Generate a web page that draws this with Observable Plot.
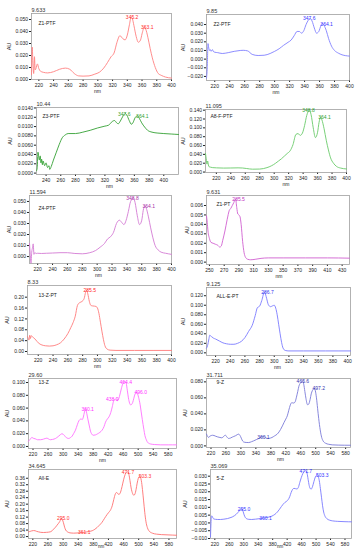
<!DOCTYPE html>
<html><head><meta charset="utf-8">
<script src="https://cdn.jsdelivr.net/npm/d3@7"></script>
<script src="https://cdn.jsdelivr.net/npm/@observablehq/plot@0.6"></script>
<style>
body{margin:0;background:#fff;}
#root{position:relative;width:357px;height:550px;overflow:hidden;}
.panel{position:absolute;}
.panel svg{overflow:visible;background:transparent;}
</style></head><body><div id="root"></div>
<script>
// ---------- DATA ----------
const names = ["Z1-PTF","Z2-PTF","Z3-PTF","A8-F-PTF","Z4-PTF","Z1-PT","13-Z-PT","ALL-E-PT","13-Z","9-Z","All-E","5-Z"];
const rtimes = ["9.633","9.85","10.44","11.095","11.594","9.631","8.33","9.125","29.60","31.711","34.645","35.069"];

const p1_spectrum = [[210,0.004],[211,0.027],[212,0.012],[213,0.005],[214,0.019],[215,0.008],[216,0.009],[218,0.013],[220,0.009],[222,0.007],[226,0.006],[232,0.0055],[240,0.0065],[248,0.0085],[256,0.0095],[262,0.0085],[268,0.005],[274,0.003],[280,0.0028],[288,0.003],[296,0.0045],[302,0.006],[308,0.0095],[313,0.014],[318,0.019],[322,0.022],[326,0.031],[330,0.0365],[334,0.034],[337,0.033],[340,0.037],[343,0.046],[345.2,0.052],[347,0.0505],[349,0.045],[352,0.036],[355,0.031],[358,0.033],[360,0.038],[363.1,0.0435],[365,0.042],[368,0.035],[371,0.026],[374,0.018],[378,0.010],[382,0.005],[386,0.0035],[392,0.002],[400,0.0012]];
const p2_spectrum = [[209,-0.022],[210,-0.010],[211,0.018],[212,0.013],[213,0.010],[214,0.011],[215,0.009],[216,0.010],[217,0.011],[218,0.009],[220,0.008],[224,0.0075],[230,0.0065],[238,0.0075],[246,0.009],[254,0.010],[258,0.0102],[264,0.0095],[270,0.0055],[278,0.0042],[286,0.0045],[294,0.0065],[300,0.009],[306,0.012],[312,0.016],[318,0.0195],[322,0.022],[326,0.027],[330,0.032],[333,0.032],[336,0.030],[339,0.033],[342,0.040],[345,0.045],[347.6,0.047],[350,0.044],[353,0.036],[356,0.030],[359,0.032],[362,0.039],[364.1,0.041],[366,0.039],[369,0.033],[372,0.024],[376,0.015],[380,0.010],[385,0.007],[390,0.005],[395,0.004],[400,0.0035]];
const p3_spectrum = [[227,0.0005],[228,0.0012],[229,0.0045],[230,0.0035],[231,0.0028],[232,0.0037],[233,0.0022],[234,0.003],[235,0.0018],[236,0.0026],[238,0.0016],[240,0.0022],[242,0.0012],[244,0.0016],[245,0.0008],[247,0.0014],[250,0.0028],[254,0.0045],[258,0.0062],[262,0.0076],[266,0.0082],[270,0.0085],[280,0.0085],[290,0.0088],[300,0.0092],[310,0.0097],[320,0.0101],[325,0.0103],[330,0.0111],[333,0.0113],[336,0.0108],[338,0.0106],[341,0.0112],[344,0.0121],[347.6,0.0128],[350,0.0124],[353,0.0113],[356,0.0105],[358,0.0108],[361,0.0119],[364.1,0.0123],[367,0.0117],[370,0.0108],[374,0.0099],[378,0.0092],[384,0.0088],[392,0.0086],[400,0.0085],[410,0.0084],[420,0.0083]];
const p4_spectrum = [[205,0.042],[206,0.030],[207,0.018],[208,0.025],[209,0.016],[210,0.012],[212,0.011],[215,0.010],[220,0.0095],[230,0.009],[240,0.0092],[250,0.0095],[256,0.0092],[262,0.008],[270,0.0065],[280,0.0068],[290,0.010],[296,0.014],[302,0.020],[306,0.025],[310,0.030],[314,0.036],[318,0.042],[322,0.048],[326,0.062],[330,0.085],[333,0.087],[336,0.083],[339,0.088],[342,0.105],[345,0.128],[348.8,0.140],[351,0.130],[354,0.100],[357,0.078],[360,0.090],[362,0.112],[364.1,0.124],[366,0.118],[369,0.098],[372,0.072],[375,0.050],[378,0.032],[382,0.020],[386,0.013],[392,0.009],[400,0.007]];
const p5_spectrum = [[209,0.012],[210,0.002],[211,-0.006],[212,0.004],[213,0.008],[214,0.0115],[215,0.002],[216,0.0035],[218,0.0028],[220,0.003],[225,0.0028],[232,0.003],[240,0.0032],[250,0.0035],[260,0.0035],[270,0.0028],[280,0.0025],[290,0.0035],[298,0.0055],[304,0.0085],[310,0.012],[314,0.016],[318,0.018],[322,0.022],[326,0.030],[330,0.033],[333,0.031],[336,0.029],[339,0.033],[342,0.041],[345,0.050],[348.8,0.053],[351,0.049],[354,0.037],[357,0.029],[360,0.033],[362,0.042],[364.1,0.046],[366,0.044],[369,0.036],[372,0.026],[375,0.017],[378,0.010],[382,0.006],[386,0.004],[392,0.003],[400,0.002]];
const p6_spectrum = [[246,0.0049],[247,0.0042],[248,0.0033],[250,0.0025],[252,0.0021],[255,0.002],[258,0.0019],[261,0.0018],[264,0.0016],[266,0.0017],[268,0.0023],[271,0.0033],[274,0.0045],[277,0.0055],[279,0.0057],[281,0.006],[283,0.0063],[285.5,0.0067],[287,0.0058],[288.5,0.0051],[290,0.005],[291.5,0.0048],[293,0.004],[295,0.0022],[297,0.001],[299,0.0005],[302,0.0003],[306,0.00025],[312,0.0003],[320,0.0004],[330,0.00045],[350,0.00045],[380,0.00045],[410,0.00045],[440,0.00042]];
const p7_spectrum = [[205.5,0.055],[206.5,0.048],[207.5,0.042],[208.5,0.060],[209.5,0.048],[210.5,0.058],[212,0.055],[214,0.050],[217,0.042],[220,0.032],[225,0.024],[230,0.021],[235,0.020],[240,0.021],[245,0.025],[250,0.032],[255,0.046],[260,0.066],[264,0.088],[267,0.106],[270,0.130],[273,0.170],[276,0.180],[279,0.184],[282,0.195],[284,0.218],[285.5,0.226],[287,0.212],[289,0.185],[291,0.170],[293,0.168],[296,0.167],[298,0.166],[300,0.160],[302,0.140],[304,0.108],[306,0.075],[308,0.045],[310,0.022],[313,0.009],[317,0.005],[325,0.004],[350,0.004],[400,0.004]];
const p8_spectrum = [[207.6,0.010],[209,0.015],[210,0.022],[211,0.030],[212,0.037],[213,0.036],[214.5,0.034],[217,0.031],[220,0.029],[225,0.025],[230,0.021],[235,0.019],[240,0.018],[245,0.018],[250,0.020],[255,0.024],[260,0.032],[265,0.045],[270,0.058],[274,0.078],[277,0.095],[280,0.098],[283,0.110],[286.7,0.128],[289,0.118],[292,0.101],[295,0.097],[298,0.099],[300,0.100],[302,0.094],[304,0.080],[306,0.060],[308,0.040],[310,0.022],[312,0.010],[315,0.005],[320,0.004],[340,0.004],[370,0.004],[404,0.004]];
const p9_spectrum = [[208,0.008],[212,0.011],[217,0.014],[222,0.0125],[226,0.012],[232,0.0105],[240,0.0105],[248,0.0115],[257,0.013],[262,0.0115],[266,0.0105],[272,0.011],[280,0.0125],[287,0.0155],[293,0.0185],[297.5,0.020],[302,0.0178],[306,0.0155],[311,0.013],[315,0.0125],[320,0.014],[324,0.016],[328,0.020],[333,0.0255],[338,0.034],[342,0.040],[348,0.043],[351,0.042],[354,0.046],[357,0.054],[360.1,0.059],[363,0.052],[366,0.043],[370,0.032],[373,0.024],[377,0.019],[380,0.0175],[386,0.018],[391,0.0195],[398,0.022],[404,0.0255],[409,0.031],[413,0.038],[418,0.043],[422,0.046],[427,0.053],[431,0.062],[434,0.070],[438.9,0.0745],[441,0.073],[444,0.0715],[447,0.073],[450,0.078],[455,0.090],[459,0.098],[464.4,0.1015],[468,0.099],[471,0.088],[474,0.076],[477,0.068],[480,0.065],[484,0.067],[487,0.072],[490,0.079],[493.5,0.084],[496,0.085],[498,0.083],[501,0.077],[505,0.066],[508,0.054],[511,0.042],[515,0.027],[518,0.017],[522,0.010],[525,0.0065],[532,0.004],[543,0.003],[560,0.0025],[580,0.0025],[602,0.0025]];
const p10_spectrum = [[208,0.0147],[211,0.0118],[214,0.0105],[217,0.0122],[220,0.0128],[224,0.0133],[228,0.013],[233,0.012],[238,0.0112],[244,0.0105],[249,0.0101],[254,0.0118],[258,0.0135],[262,0.0115],[267,0.0093],[272,0.0098],[277,0.011],[281,0.0118],[286,0.0128],[290,0.014],[294,0.0147],[299,0.0118],[303,0.0075],[307,0.005],[314,0.0043],[321,0.0042],[328,0.0052],[334,0.0063],[341,0.0078],[348,0.0093],[354,0.011],[361,0.0118],[366,0.0105],[370,0.0093],[376,0.0095],[383,0.0105],[390,0.0125],[397,0.0147],[402,0.0175],[406,0.0205],[411,0.025],[415,0.029],[420,0.0335],[424,0.0375],[428,0.0445],[432,0.051],[436,0.054],[441,0.0535],[445,0.055],[448,0.060],[452,0.068],[455,0.0745],[459,0.0785],[462,0.080],[465.6,0.081],[468,0.077],[471,0.068],[474,0.059],[478,0.0515],[481,0.052],[485,0.058],[488,0.065],[491,0.069],[494,0.071],[497.2,0.0718],[499,0.069],[502,0.060],[505,0.047],[508,0.034],[512,0.020],[516,0.0105],[520,0.006],[526,0.0034],[535,0.002],[544,0.0013],[560,0.001],[593,0.0008]];
const p11_spectrum = [[208.5,0.029],[213,0.032],[217,0.035],[222,0.037],[226,0.036],[230,0.032],[235,0.029],[241,0.026],[248,0.025],[256,0.026],[266,0.029],[271,0.036],[275,0.046],[280,0.058],[284,0.070],[288,0.082],[291,0.092],[295,0.112],[298,0.105],[301,0.085],[304,0.058],[307,0.040],[311,0.030],[315,0.025],[321,0.022],[328,0.021],[337,0.022],[346,0.024],[355,0.026],[363,0.029],[370,0.032],[377,0.036],[384,0.045],[390,0.056],[396,0.070],[403,0.088],[409,0.110],[416,0.135],[421,0.150],[425,0.162],[430,0.190],[434,0.228],[438,0.262],[441,0.272],[444,0.268],[447,0.260],[450,0.264],[454,0.290],[458,0.330],[462,0.368],[466,0.392],[469,0.398],[471.7,0.400],[474,0.385],[477,0.345],[480,0.300],[484,0.265],[487,0.255],[490,0.262],[493,0.290],[496,0.330],[499,0.360],[501,0.370],[503.3,0.372],[505,0.365],[507,0.345],[510,0.290],[513,0.220],[516,0.150],[519,0.095],[523,0.055],[528,0.033],[536,0.021],[547,0.015],[560,0.012],[580,0.010],[600,0.008]];
const p12_spectrum = [[208,-0.009],[209,-0.002],[210,0.003],[211,0.0045],[213,0.0042],[215,0.003],[218,0.0025],[222,0.0023],[228,0.0022],[236,0.0022],[245,0.0024],[255,0.0028],[262,0.0033],[268,0.0038],[274,0.0046],[279,0.0055],[283,0.0065],[287,0.0075],[290,0.0082],[292,0.0088],[295,0.0091],[298,0.0075],[301,0.0052],[304,0.0036],[308,0.0027],[314,0.0023],[322,0.0022],[332,0.0024],[342,0.0027],[352,0.003],[361,0.0034],[370,0.0038],[378,0.0044],[386,0.0055],[393,0.007],[399,0.0088],[404,0.0105],[409,0.012],[414,0.0132],[419,0.014],[423,0.015],[427,0.0168],[431,0.0195],[435,0.0215],[439,0.0222],[443,0.022],[447,0.0218],[451,0.0228],[455,0.026],[459,0.029],[463,0.0315],[467,0.033],[471.7,0.0335],[475,0.032],[478,0.028],[481,0.024],[484,0.022],[487,0.0218],[490,0.0232],[494,0.0265],[498,0.0295],[501,0.0305],[503.3,0.0308],[506,0.0298],[509,0.027],[512,0.022],[515,0.0165],[518,0.011],[521,0.007],[525,0.0042],[530,0.0027],[537,0.0018],[546,0.0013],[560,0.001],[580,0.0008],[598,0.0007]];

const p1_peaks = [345.2, 363.1];
const p2_peaks = [347.6, 364.1];
const p3_peaks = [347.6, 364.1];
const p4_peaks = [348.8, 364.1];
const p5_peaks = [348.8, 364.1];
const p6_peaks = [285.5];
const p7_peaks = [285.5];
const p8_peaks = [286.7];
const p9_peaks = [360.1, 438.9, 464.4, 496.0];
const p10_peaks = [360.1, 465.6, 497.2];
const p11_peaks = [295.0, 361.1, 471.7, 503.3];
const p12_peaks = [295.0, 360.1, 471.7, 503.3];

const xt_a = [220,240,260,280,300,320,340,360,380,400];
const xt_b = [240,260,280,300,320,340,360,380,400];
const xt_c = [250,270,290,310,330,350,370,390,410,430];
const xt_d = [220,260,300,340,380,420,460,500,540,580];
const yt_1 = [0,0.01,0.02,0.03,0.04,0.05];
const yt_2 = [-0.02,-0.01,0,0.01,0.02,0.03,0.04];
const yt_3 = [0,0.002,0.004,0.006,0.008,0.010,0.012,0.014];
const yt_4 = [0,0.02,0.04,0.06,0.08,0.10,0.12,0.14];
const yt_6 = [0,0.001,0.002,0.003,0.004,0.005,0.006];
const yt_7 = [0,0.04,0.08,0.12,0.16,0.20];
const yt_8 = [0,0.02,0.04,0.06,0.08,0.10,0.12];
const yt_9 = [0,0.02,0.04,0.06,0.08,0.10];
const yt_10 = [0,0.02,0.04,0.06,0.08];
const yt_11 = [0,0.04,0.08,0.12,0.16,0.20,0.24,0.28,0.32,0.36];
const yt_12 = [-0.010,-0.005,0,0.005,0.010,0.015,0.020,0.025,0.030];

// ---------- LAYOUT / STYLE ----------
const panels = [
 {data:p1_spectrum, peaks:p1_peaks, xd:[210,400], yd:[0,0.055], xt:xt_a, yt:yt_1, yf:".3f", frame:[31,13,171,79], line:"#ff8080", lab:"#ff2a2a", nameOff:[7,10], auDx:-22, nm:[-4,12,5], pdx:[1,3]},
 {data:p2_spectrum, peaks:p2_peaks, xd:[209,400], yd:[-0.0247,0.0516], xt:xt_a, yt:yt_2, yf:".3f", frame:[206,14,349,80], line:"#8080ff", lab:"#3333ff", nameOff:[7,10], auDx:-23, nm:[-2,12,5], pdx:[-1,4]},
 {data:p3_spectrum, peaks:p3_peaks, xd:[227,420], yd:[-0.0003,0.0141], xt:xt_b, yt:yt_3, yf:".4f", frame:[36,107,178,174], line:"#33a033", lab:"#2f9f2f", nameOff:[6,9], auDx:-26, nm:[2,12,5], pdx:[-1,5]},
 {data:p4_spectrum, peaks:p4_peaks, xd:[205,400], yd:[-0.001,0.1415], xt:xt_a, yt:yt_4, yf:".3f", frame:[205,109,346,172], line:"#6acb6a", lab:"#2f9f2f", nameOff:[5,7], auDx:-22, nm:[10,12,5], pdx:[-1,4]},
 {data:p5_spectrum, peaks:p5_peaks, xd:[209,400], yd:[-0.0063,0.0554], xt:xt_a, yt:yt_1, yf:".3f", frame:[29,195,171,263], line:"#d47ad4", lab:"#a830a8", nameOff:[9,13], auDx:-20, nm:[-2,12,5], pdx:[-1,4]},
 {data:p6_spectrum, peaks:p6_peaks, xd:[246,440], yd:[-0.00025,0.00706], xt:xt_c, yt:yt_6, yf:".3f", frame:[206,195,349,264], line:"#d060d0", lab:"#c030c0", nameOff:[10,9], auDx:-19, nm:[1,12,5], pdx:[3]},
 {data:p7_spectrum, peaks:p7_peaks, xd:[205.5,400], yd:[-0.011,0.243], xt:xt_a, yt:yt_7, yf:".2f", frame:[27,285,171,354], line:"#ff7a7a", lab:"#ff2020", nameOff:[11,10], auDx:-20, nm:[-2,12,5], pdx:[3]},
 {data:p8_spectrum, peaks:p8_peaks, xd:[207.6,404], yd:[-0.0056,0.1373], xt:xt_a, yt:yt_8, yf:".3f", frame:[206,287,350,355], line:"#7a7aff", lab:"#3333ee", nameOff:[10,9], auDx:-23, nm:[-1,12,5], pdx:[3]},
 {data:p9_spectrum, peaks:p9_peaks, xd:[208,602], yd:[-0.0032,0.1063], xt:xt_d, yt:yt_9, yf:".3f", frame:[28,378,176,448], line:"#ff70ff", lab:"#ff30ff", nameOff:[10,4], auDx:-21, nm:[0,12,5], pdx:[2,-3,1,4]},
 {data:p10_spectrum, peaks:p10_peaks, xd:[208,593], yd:[-0.002,0.0842], xt:xt_d, yt:yt_10, yf:".3f", frame:[206,378,350,447], line:"#7a7ad8", lab:"#3535b0", nameOff:[10,4], auDx:-21, nm:[2,12,5], pdx:[0,0,4]},
 {data:p11_spectrum, peaks:p11_peaks, xd:[208.5,600], yd:[-0.012,0.414], xt:xt_d, yt:yt_11, yf:".2f", frame:[28,469,176,538], line:"#ff7070", lab:"#ff3030", nameOff:[10,9], auDx:-21, nm:[-1.5,8,4.5], pdx:[2,-2,0,5]},
 {data:p12_spectrum, peaks:p12_peaks, xd:[208,598], yd:[-0.010,0.0343], xt:xt_d, yt:yt_12, yf:".3f", frame:[210,469,351,538], line:"#7a7aff", lab:"#3333ff", nameOff:[6,9], auDx:-25, nm:[-1,8,4.5], pdx:[2,0,0,5]}
];

const FONT = "'Liberation Sans', Arial, sans-serif";
const root = document.getElementById("root");
const ml = 34, mt = 14, mr = 6, mb = 20;

panels.forEach((p, i) => {
  const [l, t, r, b] = p.frame;
  const xs = p.data.map(d => d[0]);
  const interp = x => {
    const j = d3.bisectLeft(xs, x);
    if (j <= 0) return p.data[0][1];
    if (j >= xs.length) return p.data[xs.length - 1][1];
    const [x0, y0] = p.data[j - 1], [x1, y1] = p.data[j];
    return y0 + (y1 - y0) * (x - x0) / (x1 - x0);
  };
  const peakRows = p.peaks.map((x, k) => ({x, y: interp(x), t: x.toFixed(1), dx: p.pdx[k] || 0}));
  const svg = Plot.plot({
    width: r - l + ml + mr, height: b - t + mt + mb,
    marginLeft: ml, marginTop: mt, marginRight: mr, marginBottom: mb,
    style: {fontFamily: FONT, fontSize: "5px", background: "transparent", color: "#222", overflow: "visible"},
    x: {domain: p.xd, ticks: p.xt, tickSize: 2, tickPadding: 1.5, label: null, tickFormat: d3.format("d")},
    y: {domain: p.yd, ticks: p.yt, tickFormat: p.yf, tickSize: 2, tickPadding: 1.5, label: null},
    marks: [
      Plot.frame({stroke: "#a0a0a0", strokeWidth: 0.8}),
      Plot.line(p.data, {x: d => d[0], y: d => d[1], stroke: p.line, strokeWidth: 0.9, curve: "monotone-x"}),
      Plot.text([names[i]], {frameAnchor: "top-left", lineAnchor: "middle", dx: p.nameOff[0], dy: p.nameOff[1], fontSize: 5, fill: "#222"}),
      Plot.text([rtimes[i]], {frameAnchor: "top-left", lineAnchor: "bottom", dx: 0, dy: -2, fontSize: 5.5, fill: "#333"}),
      Plot.text(["AU"], {frameAnchor: "left", textAnchor: "middle", lineAnchor: "middle", rotate: -90, dx: p.auDx, fontSize: 5.5, fill: "#222"}),
      Plot.text(["nm"], {frameAnchor: "bottom", textAnchor: "middle", lineAnchor: "middle", dx: p.nm[0], dy: p.nm[1], fontSize: p.nm[2], fill: "#222"}),
      ...peakRows.map(row => Plot.text([row], {x: "x", y: "y", text: "t", fill: p.lab, lineAnchor: "bottom", dx: row.dx, dy: 2, fontSize: 5}))
    ]
  });
  const div = document.createElement("div");
  div.className = "panel";
  div.style.left = (l - ml) + "px";
  div.style.top = (t - mt) + "px";
  div.appendChild(svg);
  root.appendChild(div);
});
</script>
</body></html>
